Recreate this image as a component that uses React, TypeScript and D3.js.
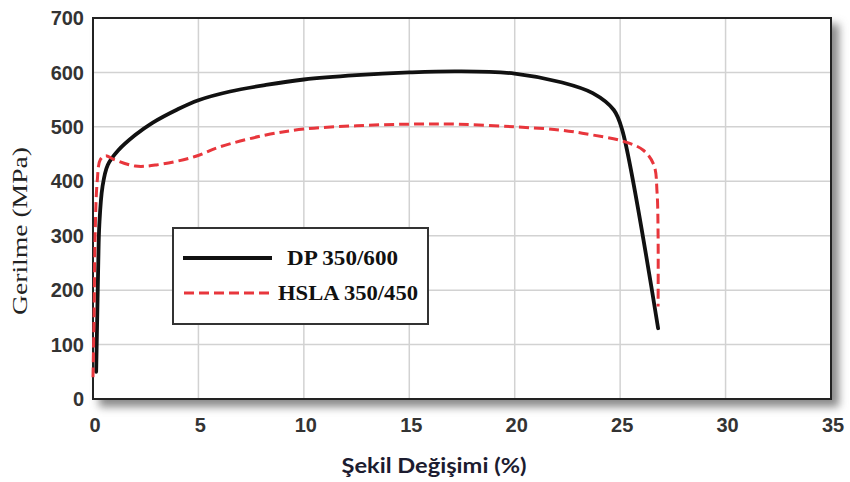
import React from "react";
import * as d3 from "d3";

const xTicks = [0, 5, 10, 15, 20, 25, 30, 35];
const yTicks = [0, 100, 200, 300, 400, 500, 600, 700];

const dpStrain = [0.15, 0.2, 0.25, 0.3, 0.45, 0.7, 1.2, 2, 2.8, 4, 5, 6.5, 8.2, 10, 12.5, 15, 17.3, 20, 22.2, 23.7, 24.7, 25.1, 26.8];
const dpStress = [50, 150, 250, 320, 390, 430, 457, 485, 507, 532, 549, 565, 577, 587, 595, 600, 602, 598, 582, 562, 531, 494, 130];

const hslaStrain = [0, 0.05, 0.1, 0.2, 0.35, 0.6, 1, 2, 3, 4.8, 6, 8.2, 10, 12.5, 15, 17.3, 20, 22.2, 23.7, 25.2, 26.1, 26.6, 26.75, 26.8, 26.8];
const hslaStress = [40, 150, 300, 400, 440, 447, 440, 428, 430, 445, 463, 485, 496, 502, 505, 505, 500, 494, 485, 473, 457, 430, 380, 300, 170];

const legendLabels = ["DP 350/600", "HSLA 350/450"];

export default function App() {
  const L = 93, R = 831, T = 18, B = 399;
  const x = d3.scaleLinear().domain([0, 35]).range([L, R]);
  const y = d3.scaleLinear().domain([0, 700]).range([B, T]);
  const line = d3
    .line<[number, number]>()
    .x((d) => x(d[0]))
    .y((d) => y(d[1]))
    .curve(d3.curveCatmullRom.alpha(0.5));
  const dp = line(dpStrain.map((s, i) => [s, dpStress[i]]) as [number, number][]) || "";
  const hs = line(hslaStrain.map((s, i) => [s, hslaStress[i]]) as [number, number][]) || "";

  return (
    <svg width={850} height={482} style={{ position: "absolute", left: 0, top: 0, background: "#fff" }}>
      <defs>
        <filter id="sh" x="-10%" y="-10%" width="130%" height="130%">
          <feGaussianBlur stdDeviation="4" />
        </filter>
      </defs>
      <rect x={L + 6} y={T + 6} width={R - L + 2} height={B - T + 2} fill="#8a8a8a" filter="url(#sh)" />
      <rect x={L} y={T} width={R - L} height={B - T} fill="#fff" />
      {xTicks.slice(1, -1).map((t) => (
        <line key={"gx" + t} x1={x(t)} x2={x(t)} y1={T} y2={B} stroke="#d2d2d2" strokeWidth={1.5} />
      ))}
      {yTicks.slice(1, -1).map((t) => (
        <line key={"gy" + t} x1={L} x2={R} y1={y(t)} y2={y(t)} stroke="#d2d2d2" strokeWidth={1.5} />
      ))}
      <rect x={L} y={T} width={R - L} height={B - T} fill="none" stroke="#222" strokeWidth={2} />
      <path d={dp} fill="none" stroke="#111" strokeWidth={3.8} strokeLinejoin="round" strokeLinecap="round" />
      <path d={hs} fill="none" stroke="#e8363c" strokeWidth={3} strokeDasharray="10 5" />
      {yTicks.map((t) => (
        <text key={"ty" + t} x={84} y={y(t)} dy="0.36em" textAnchor="end" fontFamily="Liberation Sans, Arial, sans-serif" fontWeight="bold" fontSize={20} fill="#333">
          {t}
        </text>
      ))}
      {xTicks.map((t) => (
        <text key={"tx" + t} x={x(t) + 2} y={432} textAnchor="middle" fontFamily="Liberation Sans, Arial, sans-serif" fontWeight="bold" fontSize={20} fill="#333">
          {t}
        </text>
      ))}
      <text x={434} y={473} textAnchor="middle" fontFamily="Lato, 'Open Sans', sans-serif" fontWeight="bold" fontSize={20} fill="#1c1c30" textLength={185} lengthAdjust="spacingAndGlyphs">
        Şekil Değişimi (%)
      </text>
      <text transform="translate(27,231) rotate(-90)" textAnchor="middle" fontFamily="Liberation Serif, 'Times New Roman', serif" fontSize={20} fill="#222" textLength={168} lengthAdjust="spacingAndGlyphs">
        Gerilme (MPa)
      </text>
      <rect x={173} y={228} width={255} height={96} fill="#fff" stroke="#333" strokeWidth={2} />
      <line x1={183} x2={272} y1={258} y2={258} stroke="#111" strokeWidth={3.8} />
      <line x1={184} x2={272} y1={293} y2={293} stroke="#e8363c" strokeWidth={3} strokeDasharray="10 5" />
      <text x={287} y={265} fontFamily="Liberation Serif, 'Times New Roman', serif" fontWeight="bold" fontSize={21} fill="#111" textLength={111} lengthAdjust="spacingAndGlyphs">
        {legendLabels[0]}
      </text>
      <text x={278} y={300} fontFamily="Liberation Serif, 'Times New Roman', serif" fontWeight="bold" fontSize={21} fill="#111" textLength={140} lengthAdjust="spacingAndGlyphs">
        {legendLabels[1]}
      </text>
    </svg>
  );
}
